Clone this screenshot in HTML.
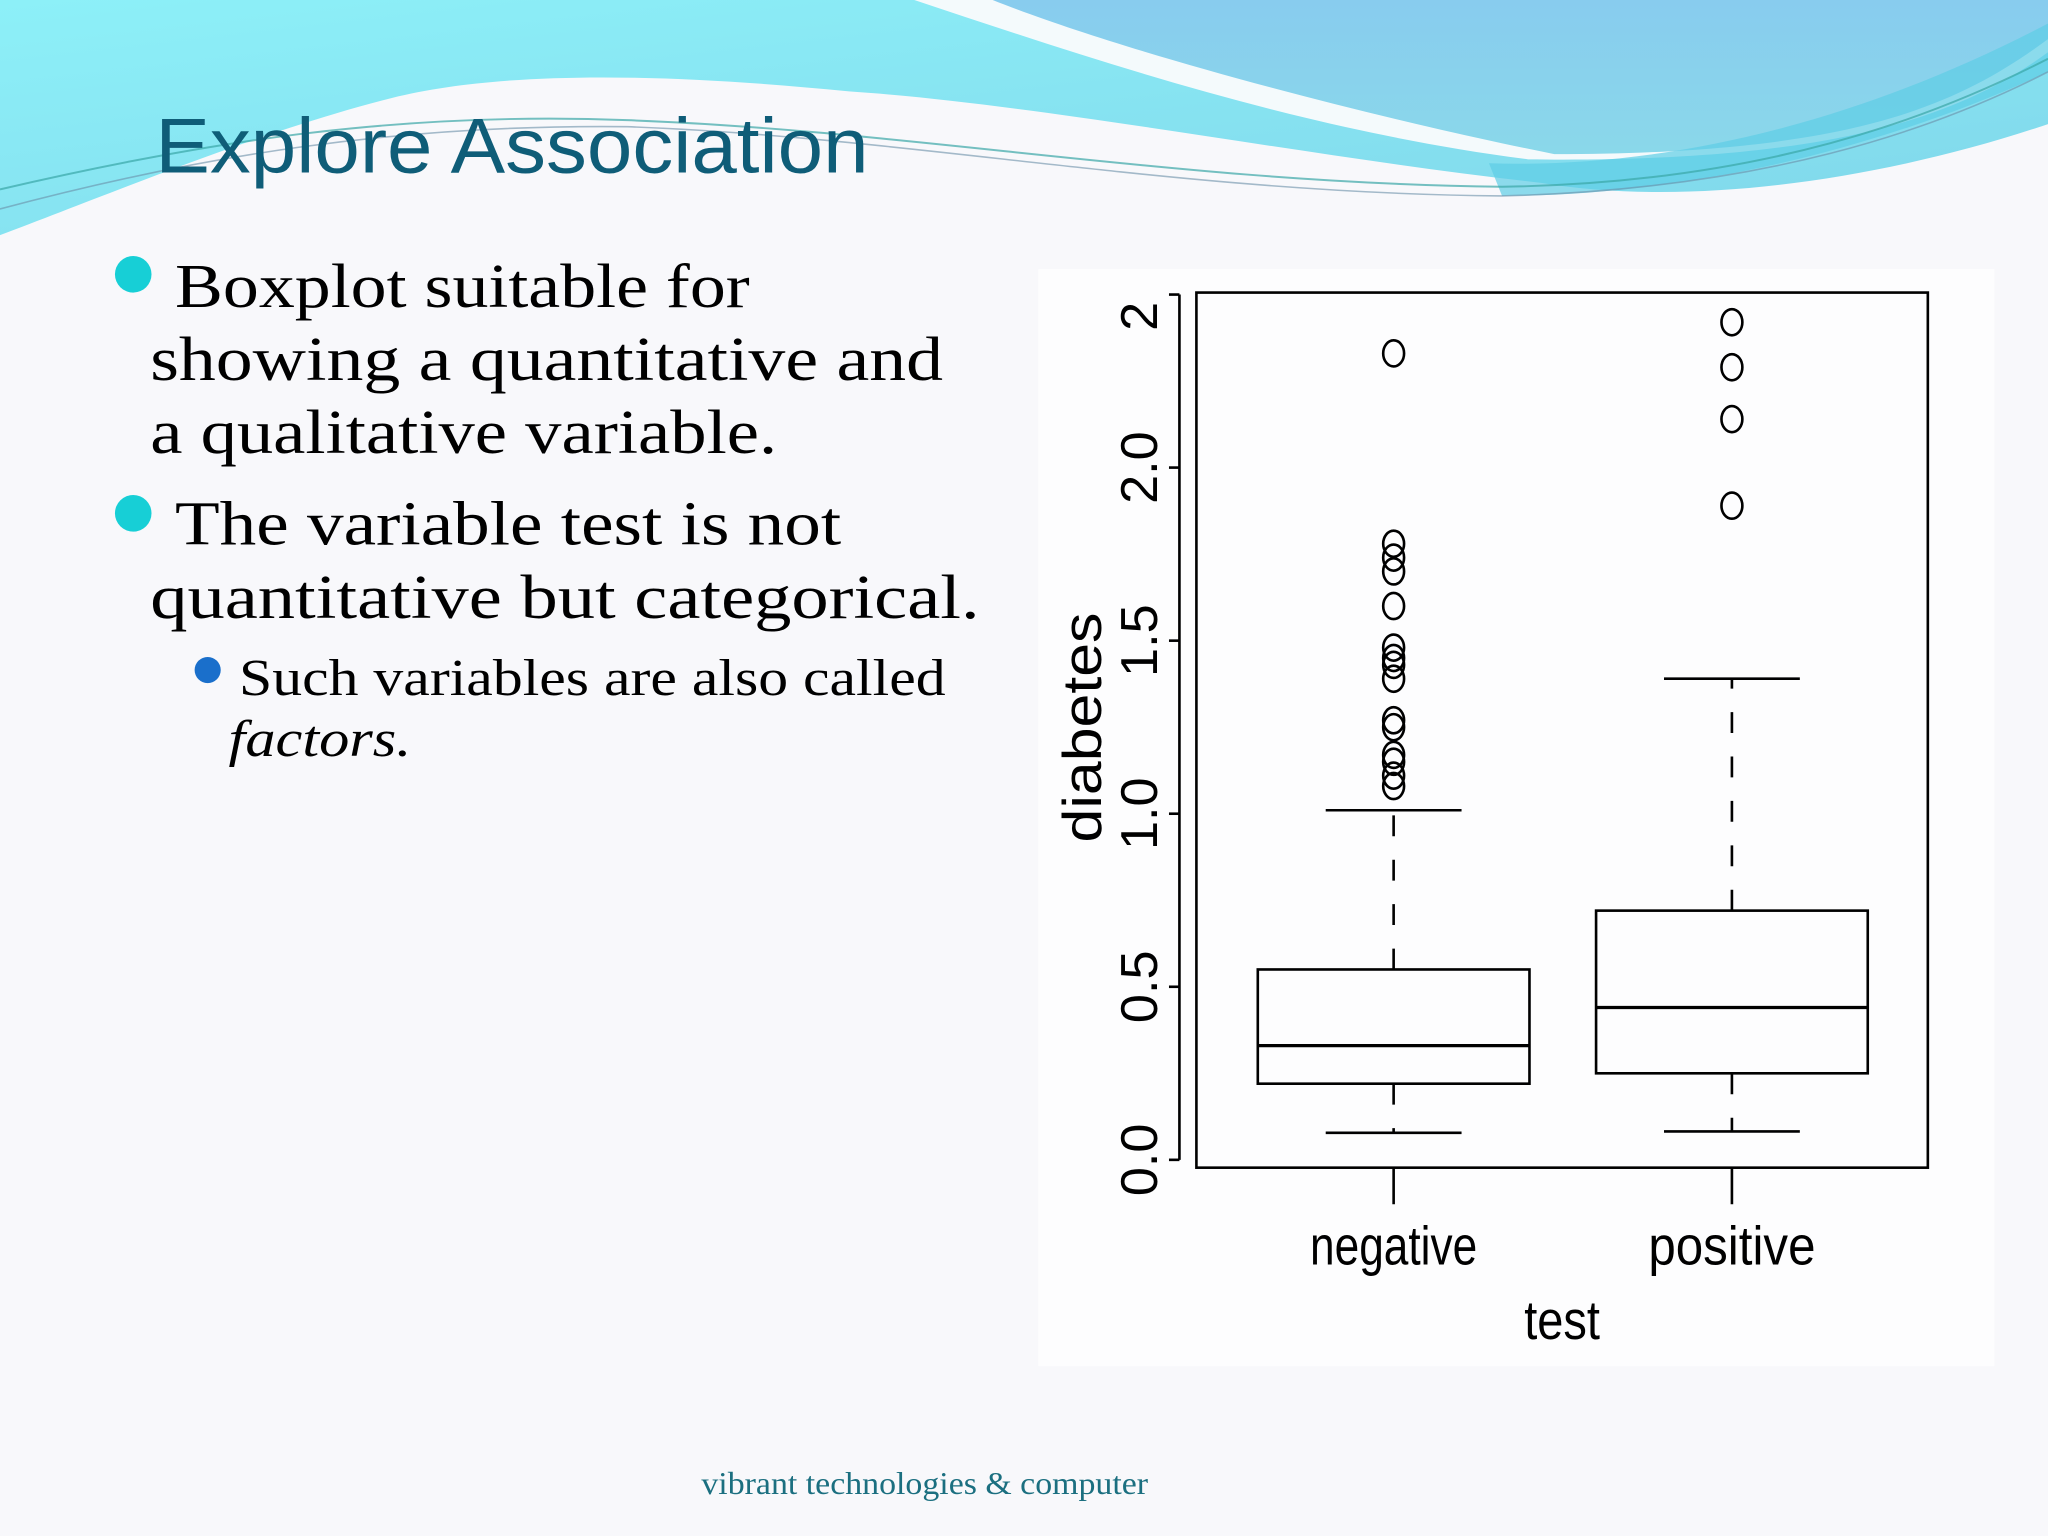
<!DOCTYPE html>
<html><head><meta charset="utf-8"><style>
html,body{margin:0;padding:0;background:#f8f8fb;}
svg{display:block;}
</style></head><body>
<svg width="2048" height="1536" viewBox="0 0 1568 1176" xmlns="http://www.w3.org/2000/svg">
<defs>
<linearGradient id="gl" x1="0" y1="0" x2="1" y2="1"><stop offset="0" stop-color="#8df0f8"/><stop offset="1" stop-color="#80d6ea"/></linearGradient>
<linearGradient id="gr" x1="0" y1="0" x2="0" y2="1"><stop offset="0" stop-color="#88ccee"/><stop offset="1" stop-color="#8ad8ea"/></linearGradient>
<clipPath id="chartclip"><rect x="795" y="206" width="732" height="840"/></clipPath>
<clipPath id="labelclip"><rect x="795" y="229" width="732" height="817"/></clipPath>
</defs>
<rect x="0" y="0" width="1568" height="1176" fill="#f8f8fb"/>
<g>
<path d="M0 0 H1568 V95 C1450 135 1300 160 1180 140 C1000 120 800 80 650 70 C500 55 380 55 300 75 C200 100 80 150 0 180 Z" fill="url(#gl)"/>
<path d="M700 0 H1568 V40 C1500 90 1400 125 1170 122 C1000 100 850 50 700 0 Z" fill="#f4fafc"/>
<path d="M750 0 H1568 V30 C1500 80 1420 118 1190 118 C1050 90 860 40 760 0 Z" fill="url(#gr)"/>
<path d="M1140 125 C1300 130 1450 80 1568 18 V55 C1450 110 1300 150 1150 150 Z" fill="#5ecde6" opacity="0.7"/>
<path d="M0 145 C150 110 300 85 480 92 C700 100 900 140 1150 143 C1350 140 1480 90 1568 45" fill="none" stroke="#3aa6a6" stroke-width="1.5" opacity="0.7"/>
<path d="M0 160 C150 120 300 95 480 97 C700 105 900 148 1150 150 C1350 145 1480 100 1568 55" fill="none" stroke="#6a8fa8" stroke-width="1.2" opacity="0.6"/>
</g>
<text x="119" y="132" font-family="Liberation Sans, sans-serif" font-size="60" fill="#0f5d78" textLength="546" lengthAdjust="spacingAndGlyphs">Explore Association</text>
<g font-family="Liberation Serif, serif" fill="#000">
<circle cx="102" cy="210" r="14" fill="#17cfd6"/>
<text x="134" y="235" font-size="48" textLength="440" lengthAdjust="spacingAndGlyphs">Boxplot suitable for</text>
<text x="115" y="291" font-size="48" textLength="607" lengthAdjust="spacingAndGlyphs">showing a quantitative and</text>
<text x="115" y="347" font-size="48" textLength="480" lengthAdjust="spacingAndGlyphs">a qualitative variable.</text>
<circle cx="102" cy="393" r="14" fill="#17cfd6"/>
<text x="134" y="417" font-size="48" textLength="510" lengthAdjust="spacingAndGlyphs">The variable test is not</text>
<text x="115" y="473" font-size="48" textLength="635" lengthAdjust="spacingAndGlyphs">quantitative but categorical.</text>
<circle cx="159" cy="513" r="10" fill="#1a6fcb"/>
<text x="183" y="532" font-size="40" textLength="541" lengthAdjust="spacingAndGlyphs">Such variables are also called</text>
<text x="175" y="579" font-size="40" font-style="italic" textLength="140" lengthAdjust="spacingAndGlyphs">factors.</text>
</g>
<text x="537" y="1144" font-family="Liberation Serif, serif" font-size="24" fill="#1b6f80" textLength="342" lengthAdjust="spacingAndGlyphs">vibrant technologies &amp; computer</text>
<rect x="795" y="206" width="732" height="840" fill="#fdfdfe"/>
<g id="chart" clip-path="url(#chartclip)"></g>
<g id="ylabels" clip-path="url(#labelclip)"></g>
<script>
var categories = ["negative", "positive"];
var lowerWhisker = [0.078, 0.082];
var q1 = [0.22, 0.25];
var median = [0.33, 0.44];
var q3 = [0.55, 0.72];
var upperWhisker = [1.01, 1.39];
var outliersNegative = [2.33, 1.78, 1.74, 1.70, 1.60, 1.48, 1.45, 1.43, 1.39, 1.27, 1.25, 1.17, 1.15, 1.11, 1.08];
var outliersPositive = [2.42, 2.29, 2.14, 1.89];
var yTicks = [0, 0.5, 1.0, 1.5, 2.0, 2.5];
var yTickLabels = ["0.0", "0.5", "1.0", "1.5", "2.0", "2.5"];

var NS = "http://www.w3.org/2000/svg";
var g = document.getElementById("chart");
var gl = document.getElementById("ylabels");
function yS(v){ return 888 - v * 265; }
function xS(i){ return 1067 + i * 259; }
function mk(tag, attrs, parent){ var e = document.createElementNS(NS, tag); for (var k in attrs) e.setAttribute(k, attrs[k]); (parent || g).appendChild(e); return e; }
function line(x1,y1,x2,y2,extra){ var a={x1:x1,y1:y1,x2:x2,y2:y2,stroke:"#000","stroke-width":2}; if(extra) for(var k in extra) a[k]=extra[k]; return mk("line", a); }

var frame = mk("rect", {x:916, y:224, width:560, height:670, fill:"none", stroke:"#000", "stroke-width":2});



var yAxis = line(903, yS(yTicks[0]), 903, yS(yTicks[yTicks.length-1]));


yTicks.forEach(function(v, i){
  var t = line(895, yS(v), 903, yS(v));
  
  
  var tx = mk("text", {x:0, y:0, transform:"translate(886," + yS(v) + ") rotate(-90)", "text-anchor":"middle", "font-family":"Liberation Sans, sans-serif", "font-size":"40", fill:"#000"}, gl);
  tx.textContent = yTickLabels[i];
  
  
});
var yTitle = mk("text", {x:0, y:0, transform:"translate(843,557) rotate(-90)", "text-anchor":"middle", "font-family":"Liberation Sans, sans-serif", "font-size":"42", fill:"#000", textLength:"176", lengthAdjust:"spacingAndGlyphs"});
yTitle.textContent = "diabetes";



var half = 104, cap = 52;
categories.forEach(function(c, i){
  var cx = xS(i);
  var xt = line(cx, 894, cx, 922);
  
  
  var xl = mk("text", {x:cx, y:968, "text-anchor":"middle", "font-family":"Liberation Sans, sans-serif", "font-size":"42", fill:"#000", textLength:"128", lengthAdjust:"spacingAndGlyphs"});
  xl.textContent = c;
  
  
  var box = mk("rect", {x:cx-half, y:yS(q3[i]), width:2*half, height:yS(q1[i])-yS(q3[i]), fill:"none", stroke:"#000", "stroke-width":2});
  
  
  var md = line(cx-half, yS(median[i]), cx+half, yS(median[i]), {"stroke-width":2.5});
  
  
  var wu = line(cx, yS(q3[i]), cx, yS(upperWhisker[i]), {"stroke-dasharray":"16 18"});
  
  
  var wl = line(cx, yS(q1[i]), cx, yS(lowerWhisker[i]), {"stroke-dasharray":"16 18"});
  
  
  var cu = line(cx-cap, yS(upperWhisker[i]), cx+cap, yS(upperWhisker[i]));
  
  
  var cl = line(cx-cap, yS(lowerWhisker[i]), cx+cap, yS(lowerWhisker[i]));
  
  
  var outs = i === 0 ? outliersNegative : outliersPositive;
  outs.forEach(function(v){
    var o = mk("ellipse", {cx:cx, cy:yS(v), rx:8, ry:10, fill:"none", stroke:"#000", "stroke-width":2});
    
    
  });
});
var xTitle = mk("text", {x:1196, y:1025, "text-anchor":"middle", "font-family":"Liberation Sans, sans-serif", "font-size":"42", fill:"#000", textLength:"58", lengthAdjust:"spacingAndGlyphs"});
xTitle.textContent = "test";


</script>
</svg>
</body></html>
